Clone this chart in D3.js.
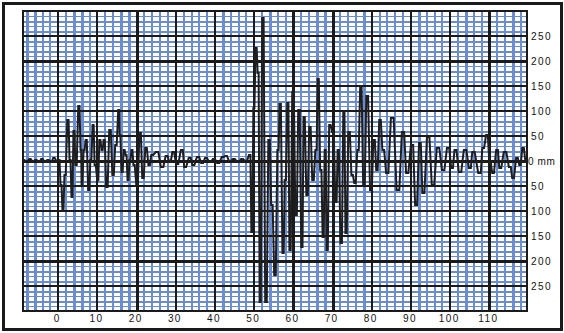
<!DOCTYPE html>
<html>
<head>
<meta charset="utf-8">
<script src="https://cdn.jsdelivr.net/npm/d3@7"></script>
<style>
  body { margin: 0; background: #fff; }
  .tick-label { font-family: "Liberation Sans", Arial, sans-serif; font-size: 10px; letter-spacing: 1.4px; fill: #111; }
</style>
</head>
<body>
<div id="chart"></div>
<script>
// trace values: time (s) and amplitude (mm)
const timeSec = [
  -9.0,-8.0,-7.2,-6.5,-5.7,-4.9,-4.2,-3.4,-2.6,-1.9,-1.1,-0.3,0.2,
  0.7,1.2,1.7,2.5,3.0,3.5,4.0,4.5,5.3,5.8,6.0,6.6,7.1,7.8,8.3,8.9,9.4,10.1,10.6,11.2,11.7,12.4,13.2,14.0,14.7,15.5,15.7,16.3,16.8,17.3,17.8,18.3,18.8,19.3,20.1,20.9,21.6,22.4,23.2,23.9,
  25.2,26.5,27.7,28.5,29.3,30.3,31.6,32.3,33.6,34.4,35.7,36.7,37.7,38.7,39.7,40.8,42.0,42.8,43.8,44.8,45.9,46.9,47.9,48.9,
  49.4,49.9,50.5,51.0,51.5,52.2,53.0,53.8,54.5,55.3,56.1,56.6,57.4,57.9,58.6,59.1,59.9,60.7,61.4,62.2,62.7,63.5,64.2,65.0,65.8,66.3,67.0,67.6,68.1,68.6,69.3,70.1,70.9,71.4,72.2,72.9,73.4,74.2,75.0,75.7,76.5,77.2,78.0,78.8,79.8,80.6,81.3,82.1,82.9,83.9,85.2,86.7,88.0,89.0,90.3,91.3,92.3,93.1,94.4,95.6,96.9,98.2,99.5,100.5,101.3,102.5,103.8,105.1,105.8,107.6,108.4,109.4,110.2,110.9,112.0,112.7,114.0,115.3,116.0,117.1,117.8,118.6,119.4
];
const ampMm = [
  2,0,4,0,2,-2,4,0,2,-2,6,0,2,
  -48,-100,-28,82,2,-72,60,-8,110,22,-48,22,42,-58,2,72,-8,-38,42,22,42,-52,62,-28,32,102,52,-22,22,12,-38,2,22,-8,-48,56,-34,26,-8,12,
  18,-12,10,-2,18,-6,22,-12,6,-8,8,-4,6,-2,4,-4,8,10,0,4,-2,4,0,12,
  -142,106,226,176,-282,286,-282,42,-88,-228,22,114,-184,-38,116,-178,138,-108,102,-172,88,-68,68,-38,22,164,-18,-152,22,-178,72,58,-82,22,-164,98,-144,58,-28,-44,22,146,-48,130,-58,42,-18,82,22,-24,86,-58,58,-24,32,-88,36,-64,48,-48,26,-18,26,-14,22,-22,22,-14,18,-24,26,52,-4,-24,22,-14,18,-12,-34,6,-8,26,-2
];

const xTicks = [0, 10, 20, 30, 40, 50, 60, 70, 80, 90, 100, 110];
const yTicks = [250, 200, 150, 100, 50, 0, -50, -100, -150, -200, -250];
const xHeavy = [20, 60, 70, 110];
const xMedium = [10, 100];
const yHeavy = [200, 0, -200];

let margin = {top: 11, right: 37, bottom: 22, left: 23},
    totalW = 564, totalH = 333,
    width = totalW - margin.left - margin.right,
    height = totalH - margin.top - margin.bottom;

let root = d3.select("#chart")
    .append("svg")
    .attr("width", totalW)
    .attr("height", totalH);

root.append("rect")
    .attr("x", 3.5).attr("y", 3.5)
    .attr("width", 558).attr("height", 326)
    .attr("fill", "#fff")
    .attr("stroke", "#1a1a1a")
    .attr("stroke-width", 3);

let svg = root.append("g")
    .attr("transform", `translate(${margin.left}, ${margin.top})`);

let x = d3.scaleLinear().domain([-9, 119.6]).range([0, width]);
let y = d3.scaleLinear().domain([-300, 300]).range([height, 0]);

// blue graph-paper lines; width follows the pixel phase like the scanned paper
const blue = "#6b8dd0";
let bx = d3.range(-8, 120, 2).filter(d => d % 10 !== 0);
let by = d3.range(-290, 300, 10).filter(d => d % 50 !== 0);

svg.append("g").selectAll("line")
    .data(bx)
    .join("line")
    .attr("x1", d => Math.round(x(d))).attr("x2", d => Math.round(x(d)))
    .attr("y1", 0).attr("y2", height)
    .attr("stroke", blue)
    .attr("stroke-width", d => (x(d) % 1) > 0.75 ? 3 : 2)
    .attr("shape-rendering", "crispEdges");

svg.append("g").selectAll("line")
    .data(by)
    .join("line")
    .attr("y1", d => Math.round(y(d)) + 0.5).attr("y2", d => Math.round(y(d)) + 0.5)
    .attr("x1", 0).attr("x2", width)
    .attr("stroke", blue)
    .attr("stroke-width", d => Math.abs(d / 10) % 2 === 1 ? 1 : 2)
    .attr("shape-rendering", "crispEdges");

// black major lines
svg.append("g").selectAll("line")
    .data(xTicks)
    .join("line")
    .attr("x1", d => Math.round(x(d))).attr("x2", d => Math.round(x(d)))
    .attr("y1", 0).attr("y2", height)
    .attr("stroke", "#1a1a1a")
    .attr("stroke-width", d => xHeavy.includes(d) ? 3 : (xMedium.includes(d) ? 2 : 1.5))
    .attr("shape-rendering", "crispEdges");

svg.append("g").selectAll("line")
    .data(yTicks)
    .join("line")
    .attr("y1", d => Math.round(y(d))).attr("y2", d => Math.round(y(d)))
    .attr("x1", 0).attr("x2", width)
    .attr("stroke", "#1a1a1a")
    .attr("stroke-width", d => yHeavy.includes(d) ? 3 : 1.5)
    .attr("shape-rendering", "crispEdges");

svg.append("rect")
    .attr("x", 0).attr("y", 0)
    .attr("width", width).attr("height", height)
    .attr("fill", "none")
    .attr("stroke", "#1a1a1a")
    .attr("stroke-width", 1.5)
    .attr("shape-rendering", "crispEdges");

// the trace: each sample is held for a short flat, then a steep pen stroke to the next
svg.append("clipPath").attr("id", "plotClip")
    .append("rect").attr("width", width).attr("height", height);

let pts = timeSec.map((t, i) => [x(t), y(ampMm[i])]);
let penPath = [];
pts.forEach((p, i) => {
    let gL = i > 0 ? p[0] - pts[i - 1][0] : 0;
    let gR = i < pts.length - 1 ? pts[i + 1][0] - p[0] : 0;
    penPath.push([p[0] - 0.25 * gL, p[1]]);
    penPath.push([p[0] + 0.25 * gR, p[1]]);
});

svg.append("path")
    .datum(penPath)
    .attr("clip-path", "url(#plotClip)")
    .attr("fill", "none")
    .attr("stroke", "#1e1e1e")
    .attr("stroke-width", 2)
    .attr("stroke-linejoin", "miter")
    .attr("d", d3.line());

// labels
svg.append("g").selectAll("text")
    .data(xTicks)
    .join("text")
    .attr("class", "tick-label")
    .attr("x", d => x(d) - 1)
    .attr("y", height + 11)
    .attr("text-anchor", "middle")
    .text(d => d);

svg.append("g").selectAll("text")
    .data(yTicks)
    .join("text")
    .attr("class", "tick-label")
    .attr("x", d => d === 0 ? width + 1 : width + 4)
    .attr("y", d => y(d))
    .attr("dy", "0.35em")
    .style("letter-spacing", d => d === 0 ? "0.6px" : null)
    .text(d => d === 0 ? "0 mm" : Math.abs(d));
</script>
</body>
</html>
